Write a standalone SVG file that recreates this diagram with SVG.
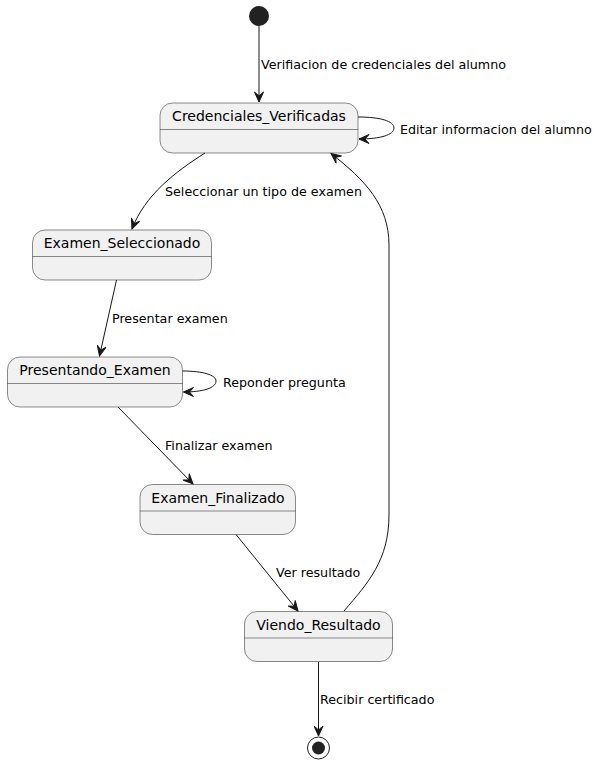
<svg xmlns="http://www.w3.org/2000/svg" width="603" height="765" viewBox="0 0 603 765">
  <style>
    .state rect { fill: #F1F1F1; stroke: #181818; stroke-width: 0.5; }
    .state line { stroke: #181818; stroke-width: 0.5; }
    .state text { font-family: "DejaVu Sans", sans-serif; font-size: 14px; fill: #000000; text-anchor: middle; }
    .edge { fill: none; stroke: #181818; stroke-width: 1; marker-end: url(#arrow); }
    .lbl { font-family: "DejaVu Sans", sans-serif; font-size: 12.7px; fill: #000000; }
  </style>
  <defs>
    <marker id="arrow" viewBox="-11 -5 12 10" refX="0" refY="0" markerWidth="12" markerHeight="10" markerUnits="userSpaceOnUse" orient="auto">
      <path d="M0,0 L-10,-4.5 L-6,0 L-10,4.5 Z" fill="#181818" stroke="#181818" stroke-width="1" stroke-linejoin="miter"/>
    </marker>
  </defs>

  <!-- initial pseudo-state -->
  <g id="start">
    <circle cx="259" cy="16" r="10" fill="#222222"/>
  </g>

  <g id="Credenciales_Verificadas" class="state">
    <rect x="160" y="103" width="198" height="50" rx="12.5" ry="12.5"/>
    <line x1="160" y1="129.5" x2="358" y2="129.5"/>
    <text x="259" y="121">Credenciales_Verificadas</text>
  </g>

  <g id="Examen_Seleccionado" class="state">
    <rect x="32.5" y="230" width="179" height="50" rx="12.5" ry="12.5"/>
    <line x1="32.5" y1="256.5" x2="211.5" y2="256.5"/>
    <text x="122" y="248">Examen_Seleccionado</text>
  </g>

  <g id="Presentando_Examen" class="state">
    <rect x="7.5" y="357" width="175" height="50" rx="12.5" ry="12.5"/>
    <line x1="7.5" y1="383.5" x2="182.5" y2="383.5"/>
    <text x="95" y="375">Presentando_Examen</text>
  </g>

  <g id="Examen_Finalizado" class="state">
    <rect x="140" y="484.5" width="155.5" height="50" rx="12.5" ry="12.5"/>
    <line x1="140" y1="511" x2="295.5" y2="511"/>
    <text x="218" y="502.5">Examen_Finalizado</text>
  </g>

  <g id="Viendo_Resultado" class="state">
    <rect x="244.5" y="611.5" width="148" height="50" rx="12.5" ry="12.5"/>
    <line x1="244.5" y1="638" x2="392.5" y2="638"/>
    <text x="318.5" y="629.5">Viendo_Resultado</text>
  </g>

  <!-- final pseudo-state -->
  <g id="end">
    <circle cx="318.5" cy="748" r="11" fill="none" stroke="#222222" stroke-width="1"/>
    <circle cx="318.5" cy="748" r="6.5" fill="#222222"/>
  </g>

  <g id="connectors">
    <path class="edge" d="M259,26 L259,102"/>
    <text class="lbl" x="261" y="69">Verifiacion de credenciales del alumno</text>

    <path class="edge" d="M358,117 C380,117 394,121 394,128 C394,135 380,139 359,139"/>
    <text class="lbl" x="400" y="134">Editar informacion del alumno</text>

    <path class="edge" d="M205,153 C175,172 145,195 132,229"/>
    <text class="lbl" x="165" y="196">Seleccionar un tipo de examen</text>

    <path class="edge" d="M116.5,280 L99.5,356"/>
    <text class="lbl" x="112" y="323">Presentar examen</text>

    <path class="edge" d="M182.5,371 C203,371 216,375 216,381 C216,388 203,392 183.5,392"/>
    <text class="lbl" x="223" y="387">Reponder pregunta</text>

    <path class="edge" d="M118,407 L193,484"/>
    <text class="lbl" x="165" y="450">Finalizar examen</text>

    <path class="edge" d="M236,534.5 L298,611"/>
    <text class="lbl" x="276" y="577">Ver resultado</text>

    <path class="edge" d="M344,611 C368,583 389,560 389,515 L389,245 C389,205 365,180 331,153.5"/>

    <path class="edge" d="M318.5,662 L318.5,736"/>
    <text class="lbl" x="320" y="704">Recibir certificado</text>
  </g>
</svg>
